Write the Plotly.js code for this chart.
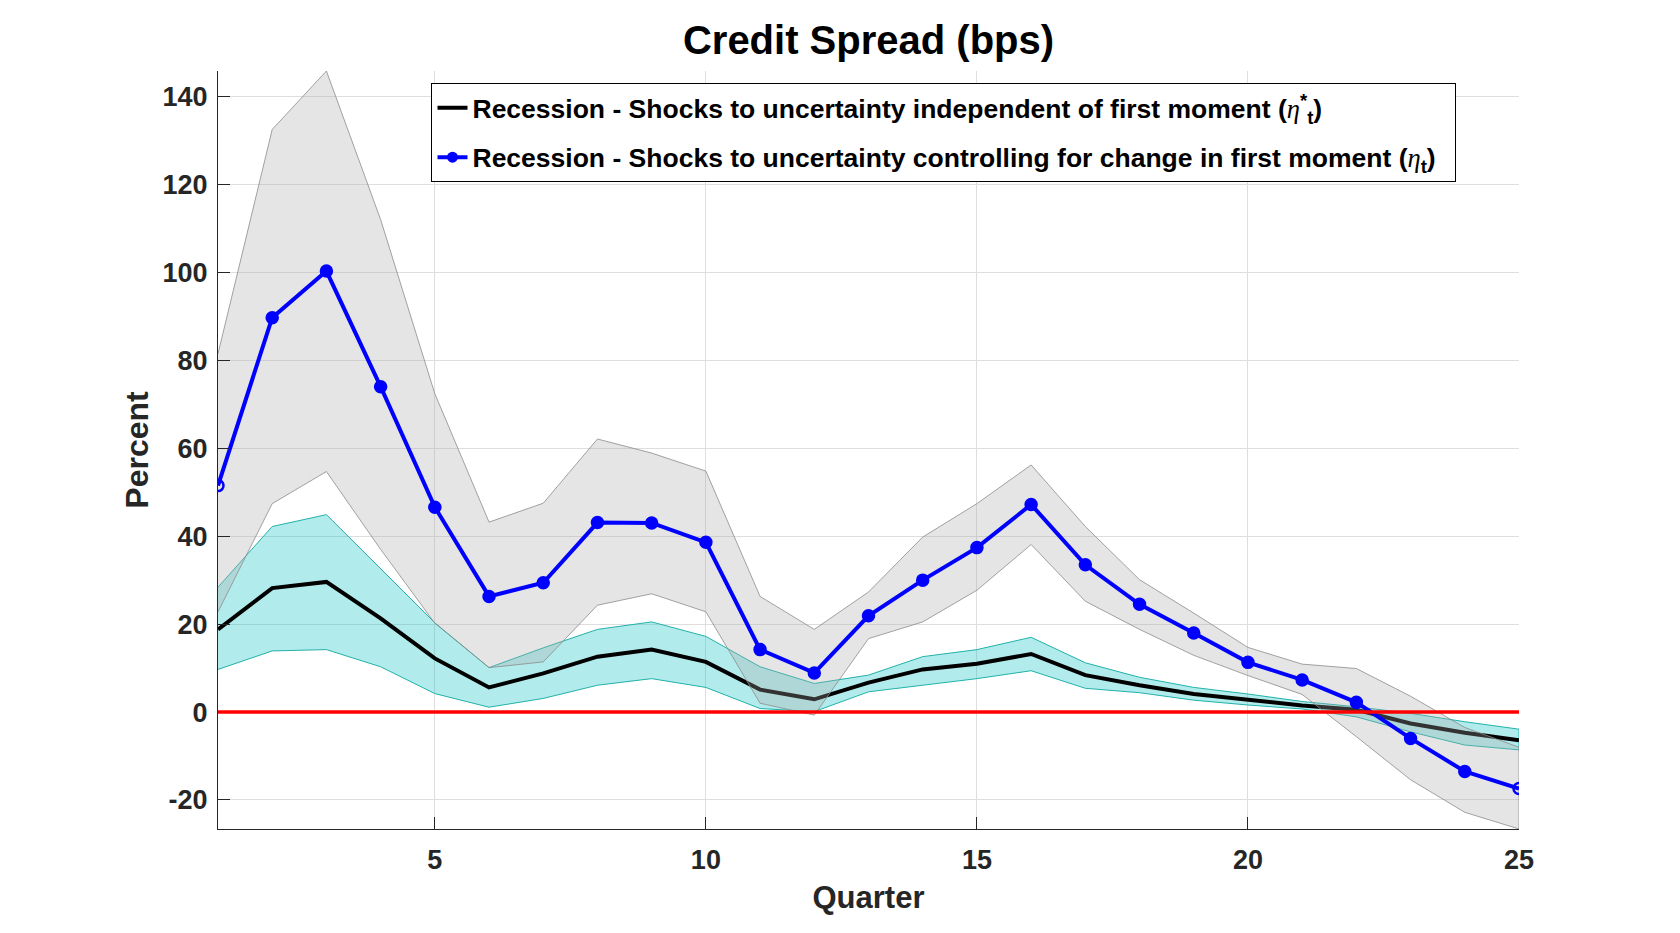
<!DOCTYPE html>
<html>
<head>
<meta charset="utf-8">
<script src="https://cdn.plot.ly/plotly-3.0.1.min.js"></script>
<style>html,body{margin:0;padding:0;background:#fff;}#chart{width:1680px;height:933px;}</style>
</head>
<body>
<div id="chart"></div>
<script>
// Quarters
const quarters = [1,2,3,4,5,6,7,8,9,10,11,12,13,14,15,16,17,18,19,20,21,22,23,24,25];

// Shocks to uncertainty controlling for change in first moment (eta_t)
const etaMean  = [51.5, 89.7, 100.3, 74.0, 46.6, 26.3, 29.4, 43.1, 43.0, 38.6, 14.2, 8.9, 21.9, 30.0, 37.4, 47.2, 33.5, 24.5, 18.0, 11.3, 7.3, 2.2, -6.0, -13.5, -17.4];
const etaUpper = [81.5, 132.5, 145.8, 112.0, 72.4, 43.2, 47.5, 62.1, 58.9, 54.8, 26.3, 18.8, 27.3, 39.8, 47.4, 56.2, 42.2, 30.1, 22.5, 14.7, 10.9, 9.9, 3.6, -3.5, -8.0];
const etaLower = [22.8, 47.4, 54.7, 37.0, 20.2, 10.1, 11.4, 24.3, 26.9, 22.8, 2.0, -0.7, 16.7, 20.5, 27.7, 38.1, 25.2, 18.8, 12.9, 8.3, 4.0, -5.6, -15.4, -22.8, -26.6];

// Shocks to uncertainty independent of first moment (eta*_t)
const etaStarMean  = [18.8, 28.2, 29.6, 21.3, 12.2, 5.6, 8.8, 12.6, 14.2, 11.4, 5.1, 2.9, 6.7, 9.7, 11.0, 13.2, 8.4, 6.1, 4.1, 2.7, 1.5, 0.5, -2.6, -4.7, -6.4];
const etaStarUpper = [28.4, 42.2, 44.9, 32.6, 20.3, 10.1, 14.6, 18.8, 20.5, 17.2, 10.3, 6.5, 8.4, 12.6, 14.2, 17.0, 11.2, 7.9, 5.6, 4.1, 2.4, 1.2, -0.3, -2.2, -3.9];
const etaStarLower = [9.7, 13.9, 14.2, 10.3, 4.2, 1.1, 3.1, 6.1, 7.6, 5.6, 0.8, 0.1, 4.6, 6.1, 7.6, 9.4, 5.4, 4.4, 2.7, 1.6, 0.7, -1.1, -4.5, -7.5, -8.6];

const xTicks = [5, 10, 15, 20, 25];
const yTicks = [-20, 0, 20, 40, 60, 80, 100, 120, 140];

const ETA = '<span style="font-family:\'Liberation Serif\',\'DejaVu Serif\',serif;font-weight:normal"><i>η</i></span>';
const nameStar = 'Recession - Shocks to uncertainty independent of first moment (' + ETA + '<sup>*</sup><sub>t</sub>)  ';
const nameEta  = 'Recession - Shocks to uncertainty controlling for change in first moment (' + ETA + '<sub>t</sub>)  ';

function band(lower, upper) {
  return {
    x: quarters.concat(quarters.slice().reverse()),
    y: upper.concat(lower.slice().reverse())
  };
}

const FONT = 'Liberation Sans, Arial, Helvetica, sans-serif';
const AX = '#262626';

const cyanBand = band(etaStarLower, etaStarUpper);
const grayBand = band(etaLower, etaUpper);

const endSymbols = quarters.map((q, i) => (i === 0 || i === quarters.length - 1) ? 'circle-open' : 'circle');

const traces = [
  { type: 'scatter', mode: 'lines', x: cyanBand.x, y: cyanBand.y, fill: 'toself',
    fillcolor: 'rgba(0,190,190,0.3)', line: { color: '#20b2aa', width: 1 },
    showlegend: false, hoverinfo: 'skip' },
  { type: 'scatter', mode: 'lines', x: quarters, y: etaStarMean, name: nameStar,
    line: { color: '#000000', width: 4 }, legendgroup: 'a' },
  { type: 'scatter', mode: 'lines', x: grayBand.x, y: grayBand.y, fill: 'toself',
    fillcolor: 'rgba(170,170,170,0.3)', line: { color: 'rgba(140,140,140,0.8)', width: 1 },
    showlegend: false, hoverinfo: 'skip' },
  { type: 'scatter', mode: 'lines+markers', x: quarters, y: etaMean, showlegend: false,
    line: { color: '#0000ff', width: 4 },
    marker: { color: '#0000ff', size: 11, symbol: endSymbols, line: { color: '#0000ff', width: 2.5 } } },
  { type: 'scatter', mode: 'lines+markers', x: [null], y: [null], name: nameEta, legendgroup: 'b',
    line: { color: '#0000ff', width: 4 }, marker: { color: '#0000ff', size: 11, symbol: 'circle' } }
];

const layout = {
  width: 1680, height: 933,
  margin: { l: 218, r: 161, t: 71, b: 104 },
  paper_bgcolor: '#ffffff', plot_bgcolor: '#ffffff',
  font: { family: FONT, color: AX, weight: 'bold' },
  title: { text: 'Credit Spread (bps)', font: { family: FONT, size: 40, color: '#000000', weight: 'bold' },
           x: 0.5, xref: 'paper', xanchor: 'center', y: 1 - 40/933, yref: 'container', yanchor: 'middle' },
  xaxis: {
    range: [1, 25], tickvals: xTicks, ticktext: xTicks.map(String),
    showgrid: true, gridcolor: '#dedede', gridwidth: 1, zeroline: false,
    showline: true, linecolor: AX, linewidth: 1, mirror: false,
    ticks: 'inside', ticklen: 12, tickcolor: AX, tickwidth: 1,
    tickfont: { family: FONT, size: 27, color: AX, weight: 'bold' },
    ticklabelstandoff: 7,
    title: { text: 'Quarter', font: { family: FONT, size: 31, color: AX, weight: 'bold' }, standoff: 11 }
  },
  yaxis: {
    range: [Math.min(...etaLower), Math.max(...etaUpper)], tickvals: yTicks, ticktext: yTicks.map(String),
    showgrid: true, gridcolor: '#dedede', gridwidth: 1, zeroline: false,
    showline: true, linecolor: AX, linewidth: 1, mirror: false,
    ticks: 'inside', ticklen: 12, tickcolor: AX, tickwidth: 1,
    tickfont: { family: FONT, size: 27, color: AX, weight: 'bold' },
    ticklabelstandoff: 4,
    title: { text: 'Percent', font: { family: FONT, size: 32, color: AX, weight: 'bold' }, standoff: 4 }
  },
  shapes: [
    { type: 'line', xref: 'paper', yref: 'y', x0: 0, x1: 1, y0: 0, y1: 0,
      line: { color: '#ff0000', width: 3.5 }, layer: 'above' }
  ],
  legend: {
    x: 0.1641, y: 0.9842, xanchor: 'left', yanchor: 'top',
    bgcolor: '#ffffff', bordercolor: '#000000', borderwidth: 1,
    font: { family: FONT, size: 26.5, color: '#000000', weight: 'bold' },
    traceorder: 'grouped', tracegroupgap: 12
  },
  showlegend: true
};

Plotly.newPlot('chart', traces, layout, { staticPlot: true, displayModeBar: false });
</script>
</body>
</html>
